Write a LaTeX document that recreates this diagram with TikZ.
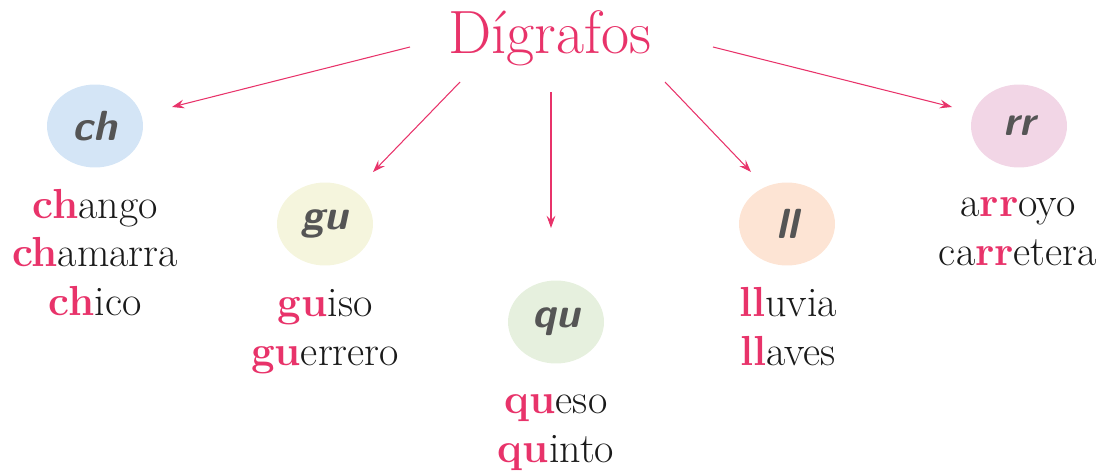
\documentclass[tikz,border=0pt]{standalone}
\usetikzlibrary{shapes.geometric,arrows.meta}
\definecolor{rosa}{HTML}{E8336A}
\definecolor{gris}{HTML}{555555}
\definecolor{tinta}{HTML}{1A1A1A}
\definecolor{azul}{HTML}{D4E5F6}
\definecolor{amarillo}{HTML}{F5F5DD}
\definecolor{verde}{HTML}{E6F0DE}
\definecolor{durazno}{HTML}{FDE4D4}
\definecolor{lila}{HTML}{F2D6E6}
\newcommand{\dg}[1]{\textcolor{rosa}{\textbf{#1}}}

\begin{document}
\begin{tikzpicture}[x=0.02cm,y=-0.02cm]
                        \tikzstyle{burbuja}=[ellipse,minimum width=1.92cm,minimum height=1.66cm,inner sep=0pt,
                            text=gris,font=\fontsize{24}{24}\selectfont\sffamily\bfseries\itshape]
                        \tikzstyle{palabras}=[anchor=base,align=center,inner sep=0pt,text=tinta,
                            font=\fontsize{23.9}{27.6}\selectfont]
                        \tikzstyle{flecha}=[draw=rosa,line width=0.6pt,-{Stealth[length=7pt,width=5pt,inset=2.5pt]}]
                        \useasboundingbox (0,0) rectangle (1104,470);
                        \node[anchor=base,inner sep=0pt,text=rosa,font=\fontsize{34.8}{34.8}\selectfont] (titulo) at (550,53) {Dígrafos};
                        \node[burbuja,fill=azul] (ch) at (95,126) {ch};
                        \node[burbuja,fill=amarillo] (gu) at (325,224) {gu};
                        \node[burbuja,fill=verde] (qu) at (556,322) {qu};
                        \node[burbuja,fill=durazno] (ll) at (787,224) {ll};
                        \node[burbuja,fill=lila] (rr) at (1019,126) {rr};
                        \node[palabras] (ch-ej) at (95,315) {\dg{ch}ango\\\dg{ch}amarra\\\dg{ch}ico};
                        \node[palabras] (gu-ej) at (325,365) {\dg{gu}iso\\\dg{gu}errero};
                        \node[palabras] (qu-ej) at (556,462) {\dg{qu}eso\\\dg{qu}into};
                        \node[palabras] (ll-ej) at (788,365) {\dg{ll}uvia\\\dg{ll}aves};
                        \node[palabras] (rr-ej) at (1018,265) {a\dg{rr}oyo\\ca\dg{rr}etera};
                        \coordinate (ch-sal) at ([shift={(-140,-6)}]titulo.base);
                        \coordinate (gu-sal) at ([shift={(-90,29)}]titulo.base);
                        \coordinate (qu-sal) at ([shift={(1,39)}]titulo.base);
                        \coordinate (ll-sal) at ([shift={(115,29)}]titulo.base);
                        \coordinate (rr-sal) at ([shift={(163,-6)}]titulo.base);
                        \coordinate (ch-lleg) at ([shift={(77,-19)}]ch.center);
                        \coordinate (gu-lleg) at ([shift={(48,-52)}]gu.center);
                        \coordinate (qu-lleg) at ([shift={(-5,-94)}]qu.center);
                        \coordinate (ll-lleg) at ([shift={(-36,-52)}]ll.center);
                        \coordinate (rr-lleg) at ([shift={(-67,-19)}]rr.center);
                        \draw[flecha] (ch-sal) -- (ch-lleg);
                        \draw[flecha] (gu-sal) -- (gu-lleg);
                        \draw[flecha] (qu-sal) -- (qu-lleg);
                        \draw[flecha] (ll-sal) -- (ll-lleg);
                        \draw[flecha] (rr-sal) -- (rr-lleg);
                    \end{tikzpicture}
\end{document}
